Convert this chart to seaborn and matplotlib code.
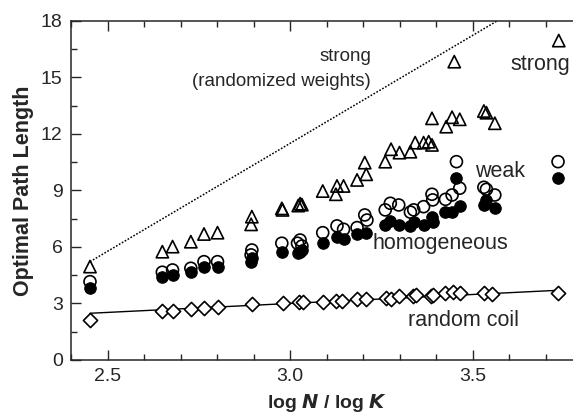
import matplotlib
matplotlib.use("Agg")
import matplotlib.pyplot as plt
import seaborn as sns
from matplotlib.ticker import MultipleLocator

# strong disorder (open triangles)
strong_x = [2.452, 2.650, 2.678, 2.728, 2.764, 2.801, 2.893, 2.895, 2.977, 2.979,
            3.022, 3.027, 3.032, 3.089, 3.125, 3.128, 3.146, 3.183, 3.204, 3.208,
            3.260, 3.276, 3.299, 3.329, 3.342, 3.365, 3.379, 3.388, 3.388, 3.427,
            3.443, 3.449, 3.464, 3.530, 3.537, 3.560, 3.735]
strong_y = [4.96, 5.75, 6.02, 6.28, 6.69, 6.76, 7.20, 7.61, 8.05, 7.97,
            8.20, 8.30, 8.25, 8.97, 8.80, 9.24, 9.24, 9.56, 10.48, 9.86,
            10.53, 11.19, 11.01, 11.06, 11.54, 11.54, 11.59, 11.42, 12.83, 12.39,
            12.89, 15.84, 12.78, 13.22, 13.13, 12.57, 16.96]

# weak disorder (open circles)
weak_x = [2.452, 2.650, 2.678, 2.728, 2.764, 2.801, 2.893, 2.895, 2.977, 3.020,
          3.027, 3.032, 3.089, 3.128, 3.146, 3.183, 3.204, 3.210, 3.260, 3.274,
          3.297, 3.329, 3.338, 3.365, 3.388, 3.390, 3.425, 3.443, 3.455, 3.464,
          3.530, 3.537, 3.560, 3.733]
weak_y = [4.16, 4.66, 4.78, 4.87, 5.22, 5.22, 5.58, 5.84, 6.20, 6.20,
          6.37, 6.05, 6.76, 7.12, 6.94, 7.03, 7.70, 7.43, 7.97, 8.32,
          8.23, 7.85, 7.97, 8.14, 8.80, 8.50, 8.53, 8.76, 10.53, 9.12,
          9.17, 9.06, 8.76, 10.53]

# homogeneous (filled circles)
homo_x = [2.452, 2.650, 2.678, 2.728, 2.764, 2.801, 2.893, 2.895, 2.977, 3.022,
          3.027, 3.032, 3.089, 3.128, 3.146, 3.183, 3.208, 3.260, 3.274, 3.297,
          3.329, 3.338, 3.365, 3.388, 3.390, 3.425, 3.443, 3.455, 3.464, 3.530,
          3.537, 3.560, 3.733]
homo_y = [3.81, 4.43, 4.51, 4.66, 4.96, 4.96, 5.22, 5.40, 5.75, 5.70,
          5.75, 5.85, 6.20, 6.55, 6.45, 6.67, 6.73, 7.17, 7.40, 7.17,
          7.12, 7.30, 7.17, 7.61, 7.35, 7.88, 7.88, 9.65, 8.18, 8.23,
          8.50, 8.06, 9.68]

# random coil (open diamonds)
coil_x = [2.452, 2.650, 2.678, 2.728, 2.764, 2.801, 2.895, 2.979, 3.025, 3.034,
          3.091, 3.125, 3.143, 3.183, 3.207, 3.262, 3.276, 3.299, 3.335, 3.344,
          3.385, 3.390, 3.425, 3.445, 3.466, 3.530, 3.553, 3.732]
coil_y = [2.12, 2.62, 2.62, 2.71, 2.74, 2.80, 2.95, 3.01, 3.06, 3.06,
          3.06, 3.15, 3.15, 3.22, 3.22, 3.31, 3.24, 3.40, 3.40, 3.47,
          3.40, 3.47, 3.54, 3.63, 3.54, 3.54, 3.49, 3.54]

# fitted line through random coil, and the strong (randomized weights) line
fit_x = [2.452, 3.733]
fit_y = [2.48, 3.70]
rand_x = [2.452, 3.566]
rand_y = [5.22, 18.0]

sns.set_style("ticks")
plt.rcParams["font.family"] = ["Liberation Sans", "DejaVu Sans"]

fig = plt.figure(figsize=(5.73, 4.18), dpi=100)
ax = fig.add_axes([0.1239, 0.1388, 0.8927, 0.811])

sns.lineplot(x=fit_x, y=fit_y, color="black", linewidth=1.0, ax=ax)
sns.lineplot(x=rand_x, y=rand_y, color="black", linewidth=1.1,
             linestyle=(0, (1.1, 1.1)), ax=ax)

def hollow(xs, ys, marker, size, face="none"):
    sns.scatterplot(x=xs, y=ys, marker=marker, s=size, ax=ax,
                    color="black", linewidth=1.2, zorder=3)
    coll = ax.collections[-1]
    coll.set_facecolor(face)
    coll.set_edgecolor("black")

hollow(strong_x, strong_y, "^", 78)
hollow(weak_x, weak_y, "o", 74)
sns.scatterplot(x=homo_x, y=homo_y, marker="o", s=68, color="black",
                edgecolor="black", linewidth=0.8, zorder=4, ax=ax)
hollow(coil_x, coil_y, "D", 52, face="white")

ax.set_xlim(2.4, 3.8)
ax.set_ylim(0, 18)
ax.yaxis.set_major_locator(MultipleLocator(3))
ax.yaxis.set_minor_locator(MultipleLocator(1.5))
ax.set_xticks([2.5, 3.0, 3.5])
ax.set_xticklabels(["2.5", "3.0", "3.5"])
ax.xaxis.set_minor_locator(MultipleLocator(0.1))
for s in ax.spines.values():
    s.set_linewidth(1.1)
ax.tick_params(which="both", direction="in", top=True, right=True,
               width=1.0, labelsize=14, pad=6)
ax.tick_params(which="major", length=7)
ax.tick_params(which="minor", length=4)

ax.set_ylabel("Optimal Path Length", fontsize=15.5, fontweight="bold", labelpad=5)
ax.set_xlabel(r"log $\boldsymbol{N}$ / log $\boldsymbol{K}$", fontsize=14,
              fontweight="bold", labelpad=5)

ax.text(3.15, 16.1, "strong", fontsize=13.5, ha="center", va="center")
ax.text(2.975, 14.78, "(randomized weights)", fontsize=13.5, ha="center", va="center")
ax.text(3.685, 15.67, "strong", fontsize=15.5, ha="center", va="center")
ax.text(3.575, 10.0, "weak", fontsize=15.5, ha="center", va="center")
ax.text(3.41, 6.2, "homogeneous", fontsize=15.5, ha="center", va="center")
ax.text(3.474, 2.12, "random coil", fontsize=15.5, ha="center", va="center")

fig.savefig("out.png", dpi=100)
